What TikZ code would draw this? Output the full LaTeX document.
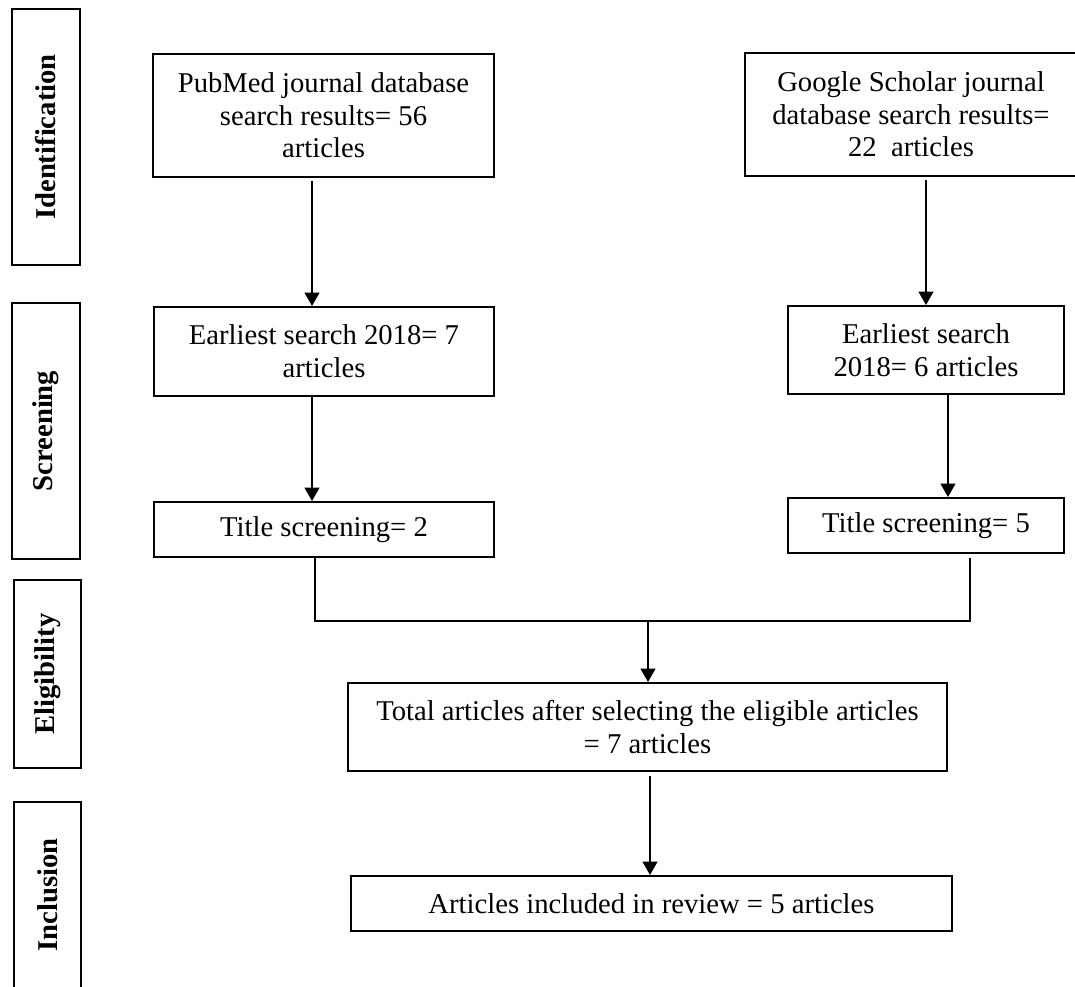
\documentclass[tikz,border=0pt]{standalone}
\usepackage{fontspec}
\setmainfont{Liberation Serif}
\usetikzlibrary{arrows.meta}

\begin{document}
\begin{tikzpicture}[x=0.75pt,y=0.75pt,yscale=-1,xscale=1,
  box/.style={draw,line width=1.5pt,align=center,inner sep=0pt,font=\fontsize{21.5}{24.5}\selectfont},
  stage/.style={box,rotate=90,font=\fontsize{21.5}{24.5}\selectfont\bfseries},
  arr/.style={line width=1.5pt,-{Triangle[width=11pt,length=10pt]}},
  lnk/.style={line width=1.5pt}]
\useasboundingbox (0,0) rectangle (1075,987);

%Stage boxes (left column)
\node[stage,minimum width=192pt,minimum height=51pt] (sIdent) at (46,137) {Identification};
\node[stage,minimum width=192pt,minimum height=51pt] (sScreen) at (46,431) {Screening};
\node[stage,minimum width=141pt,minimum height=50.25pt] (sElig) at (47.5,674) {Eligibility};
\node[stage,minimum width=139.5pt,minimum height=50.25pt] (sIncl) at (47.5,895) {Inclusion};

% Text Node
\node[box,minimum width=255.75pt,minimum height=92.25pt] (pubmed) at (323.5,115.5) {PubMed journal database\\search results= 56\\articles};
% Text Node
\node[box,minimum width=249pt,minimum height=92.25pt] (google) at (911,114.5) {Google Scholar journal\\database search results=\\22 \ articles};
% Text Node
\node[box,minimum width=255pt,minimum height=66.75pt] (early1) at (324,351.5) {Earliest search 2018= 7\\articles};
% Text Node
\node[box,minimum width=207pt,minimum height=66pt] (early2) at (926,350) {Earliest search\\2018= 6 articles};
% Text Node
\node[box,minimum width=255pt,minimum height=41.25pt] (title1) at (324,529.5) {Title screening= 2};
% Text Node
\node[box,minimum width=207pt,minimum height=41.25pt] (title2) at (926,525.5) {Title screening= 5};
% Text Node
\node[box,minimum width=449.25pt,minimum height=66pt] (total) at (647.5,727) {Total articles after selecting the eligible articles\\= 7 articles};
% Text Node
\node[box,minimum width=450.75pt,minimum height=41.25pt] (incl) at (651.5,903.5) {Articles included in review = 5 articles};

%Arrows
\draw[arr,shorten <=2pt] (312,0 |- pubmed.south) -- (312,0 |- early1.north);
\draw[arr,shorten <=2pt] (early2.north |- google.south) -- (early2.north);
\draw[arr] (312,0 |- early1.south) -- (312,0 |- title1.north);
\draw[arr] (948,0 |- early2.south) -- (948,0 |- title2.north);

%Joining lines
\coordinate (join) at (648,621);
\draw[lnk,shorten >=3pt] (315,0 |- title1.south) -- (315,621) -- (970,621) -- (970,0 |- title2.south);
\draw[arr] (join) -- (join |- total.north);
\draw[arr,shorten <=3pt] (650,0 |- total.south) -- (650,0 |- incl.north);

\end{tikzpicture}
\end{document}
